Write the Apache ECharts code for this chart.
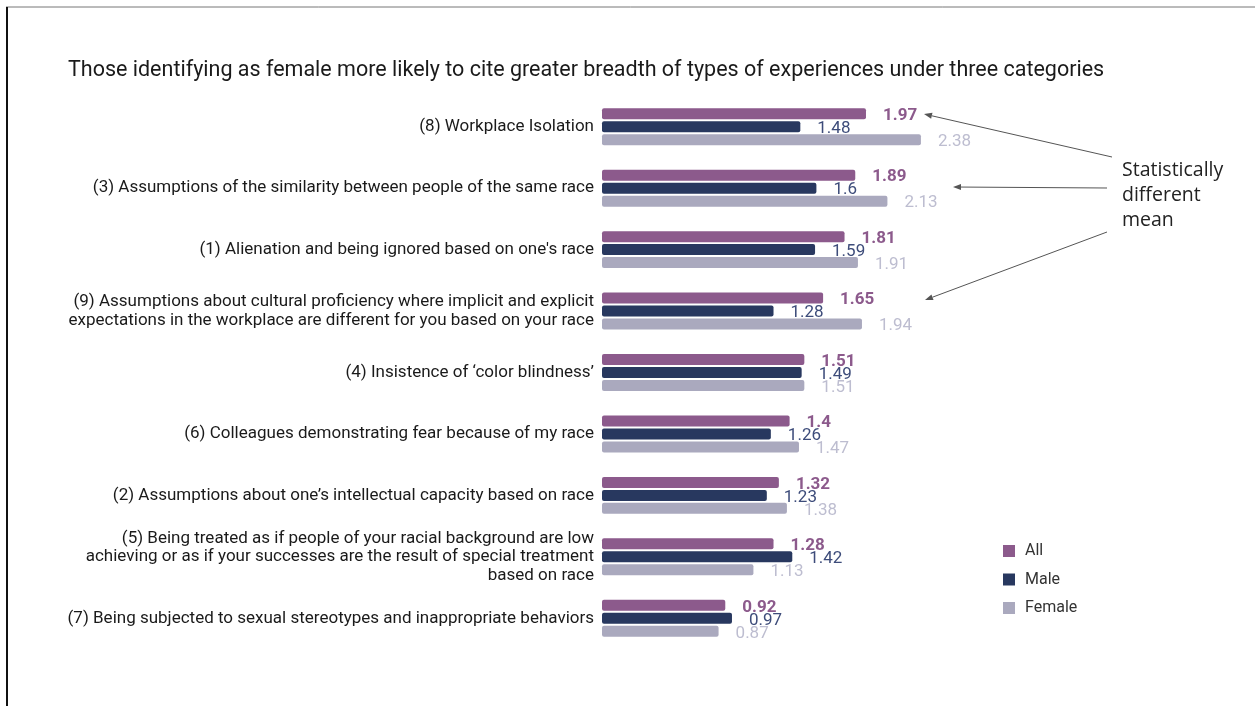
<!DOCTYPE html>
<html>
<head>
<meta charset="utf-8">
<script src="https://cdn.jsdelivr.net/npm/echarts@6/dist/echarts.min.js"></script>
<style>
  html, body { margin: 0; padding: 0; background: #fff; }
  #chart { width: 1255px; height: 706px; }
</style>
</head>
<body>
<div id="chart"></div>
<script>
// Experience categories, top to bottom
const categories = [
  "(8) Workplace Isolation",
  "(3) Assumptions of the similarity between people of the same race",
  "(1) Alienation and being ignored based on one's race",
  "(9) Assumptions about cultural proficiency where implicit and explicit\nexpectations in the workplace are different for you based on your race",
  "(4) Insistence of \u2018color blindness\u2019",
  "(6) Colleagues demonstrating fear because of my race",
  "(2) Assumptions about one\u2019s intellectual capacity based on race",
  "(5) Being treated as if people of your racial background are low\nachieving or as if your successes are the result of special treatment\nbased on race",
  "(7) Being subjected to sexual stereotypes and inappropriate behaviors"
];

// Mean number of experience types cited, per group
const allValues    = [1.97, 1.89, 1.81, 1.65, 1.51, 1.40, 1.32, 1.28, 0.92];
const maleValues   = [1.48, 1.60, 1.59, 1.28, 1.49, 1.26, 1.23, 1.42, 0.97];
const femaleValues = [2.38, 2.13, 1.91, 1.94, 1.51, 1.47, 1.38, 1.13, 0.87];

const seriesNames = ["All", "Male", "Female"];

const COLORS = { All: "#8c5a8c", Male: "#28385f", Female: "#aaa9be" };
const LABEL_COLORS = { All: "#8c5a8c", Male: "#3d4c7a", Female: "#bdbdd0" };
const FONT = "Roboto, 'Noto Sans', sans-serif";

function fmt(v) { return String(Number(v.toFixed(2))); }

function barSeries(name, values) {
  return {
    name: name,
    type: "bar",
    data: values,
    barWidth: 11,
    barGap: "18%",
    itemStyle: { color: COLORS[name], borderRadius: 2 },
    label: {
      show: true,
      position: "right",
      distance: 17,
      offset: [0, 2],
      formatter: p => fmt(p.value),
      color: LABEL_COLORS[name],
      fontFamily: FONT,
      fontSize: 17,
      fontWeight: name === "All" ? "bold" : "normal"
    },
    emphasis: { disabled: true },
    animation: false
  };
}

// Arrow from the annotation text toward a highlighted value
function arrow(x1, y1, x2, y2) {
  const ang = Math.atan2(y2 - y1, x2 - x1);
  const L = 8, W = 3;
  const bx = x2 - L * Math.cos(ang), by = y2 - L * Math.sin(ang);
  const px = -Math.sin(ang) * W, py = Math.cos(ang) * W;
  return [
    { type: "line", shape: { x1: x1, y1: y1, x2: bx, y2: by },
      style: { stroke: "#555", lineWidth: 1 }, silent: true },
    { type: "polygon",
      shape: { points: [[x2, y2], [bx + px, by + py], [bx - px, by - py]] },
      style: { fill: "#555" }, silent: true }
  ];
}

const chart = echarts.init(document.getElementById("chart"), null, { renderer: "canvas" });

chart.setOption({
  backgroundColor: "#fff",
  animation: false,
  title: {
    text: "Those identifying as female more likely to cite greater breadth of types of experiences under three categories",
    left: 68,
    top: 60,
    padding: 0,
    textStyle: { fontFamily: FONT, fontSize: 21.5, fontWeight: "normal", color: "#1a1a1a" }
  },
  legend: {
    orient: "vertical",
    left: 1003,
    top: 543,
    padding: 0,
    data: seriesNames,
    icon: "rect",
    itemWidth: 12,
    itemHeight: 12,
    itemGap: 12.5,
    textStyle: { fontFamily: FONT, fontSize: 16, color: "#333", padding: [0, 0, 0, 5] },
    selectedMode: false
  },
  grid: { left: 602, top: 96, width: 536, height: 553, containLabel: false },
  xAxis: {
    type: "value",
    min: 0,
    max: 4,
    show: false,
    splitLine: { show: false }
  },
  yAxis: {
    type: "category",
    data: categories,
    inverse: true,
    axisLine: { show: false },
    axisTick: { show: false },
    axisLabel: {
      margin: 8,
      fontFamily: FONT,
      fontSize: 17,
      color: "#1a1a1a",
      lineHeight: 18.5,
      align: "right"
    }
  },
  series: [
    barSeries("All", allValues),
    barSeries("Male", maleValues),
    barSeries("Female", femaleValues)
  ],
  graphic: [
    // page frame
    { type: "line", shape: { x1: 6, y1: 7, x2: 1255, y2: 7 },
      style: { stroke: "#777", lineWidth: 1 }, silent: true },
    { type: "line", shape: { x1: 7, y1: 7, x2: 7, y2: 706 },
      style: { stroke: "#111", lineWidth: 2 }, silent: true },
    // annotation
    { type: "text", left: 1122, top: 158,
      style: { text: "Statistically\ndifferent\nmean", font: "19.5px 'Open Sans', Lato, sans-serif",
               fill: "#222", lineHeight: 25 }, silent: true },
    ...arrow(1112, 157, 924, 114),
    ...arrow(1107, 188, 953, 187),
    ...arrow(1107, 232, 925, 300)
  ]
});
</script>
</body>
</html>
